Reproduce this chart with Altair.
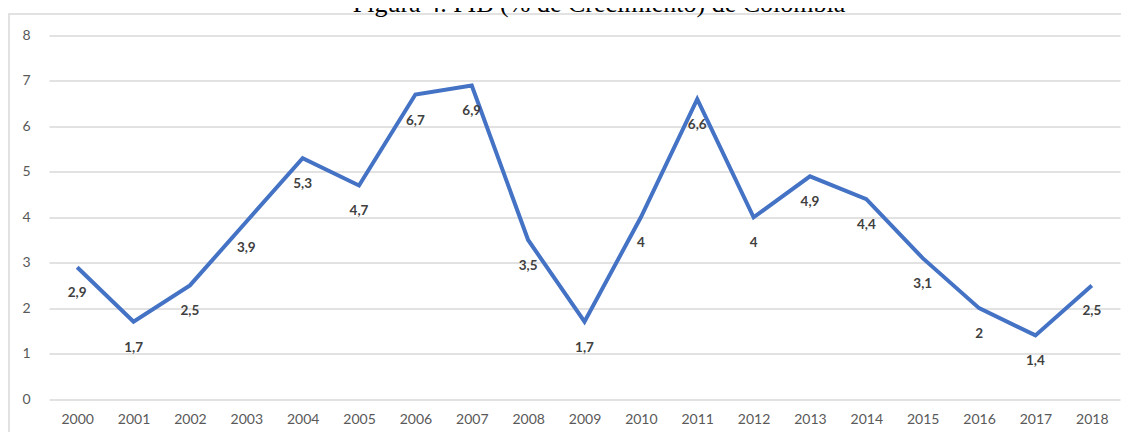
import altair as alt
import pandas as pd

years = [str(y) for y in range(2000, 2019)]
growth = [2.9, 1.7, 2.5, 3.9, 5.3, 4.7, 6.7, 6.9, 3.5, 1.7, 4.0, 6.6, 4.0, 4.9, 4.4, 3.1, 2.0, 1.4, 2.5]
labels = ["2,9", "1,7", "2,5", "3,9", "5,3", "4,7", "6,7", "6,9", "3,5", "1,7", "4",
          "6,6", "4", "4,9", "4,4", "3,1", "2", "1,4", "2,5"]
title_text = "Figura 4. PIB (% de Crecimiento) de Colombia"
y_ticks = [0, 1, 2, 3, 4, 5, 6, 7, 8]

df = pd.DataFrame({"year": years, "growth": growth, "label": labels})

W, H = 1071, 363.5

x_enc = alt.X("year:O", sort=years,
              scale=alt.Scale(type="point", padding=0.5),
              axis=alt.Axis(title=None, labelAngle=0, ticks=False, domain=False,
                            grid=False, labelFont="Lato", labelFontSize=14,
                            labelColor="#595959", labelPadding=13))
y_enc = alt.Y("growth:Q", scale=alt.Scale(domain=[0, 8], nice=False),
              axis=alt.Axis(title=None, values=y_ticks, ticks=False, domain=False,
                            grid=True, gridColor="#D9D9D9", gridWidth=1.5,
                            labelFont="Lato", labelFontSize=14, labelColor="#595959",
                            labelPadding=19))

base = alt.Chart(df)

line = base.mark_line(color="#4472C4", strokeWidth=4, strokeJoin="miter").encode(x=x_enc, y=y_enc)

text = base.mark_text(font="Lato", fontWeight="bold", fontSize=13.5, color="#404040",
                      dy=26, baseline="middle").encode(x=alt.X("year:O", sort=years), y="growth:Q", text="label:N")

border = alt.Chart(pd.DataFrame({"a": [0]})).mark_rect(
    fill=None, stroke="#D9D9D9", strokeWidth=1.5).encode(
    x=alt.value(-40), x2=alt.value(1200), y=alt.value(-21.5), y2=alt.value(500))

title = alt.Chart(pd.DataFrame({"t": [title_text]})).mark_text(
    font="Liberation Serif", fontSize=26, color="#000000", baseline="alphabetic",
    align="center").encode(text="t:N", x=alt.value(550), y=alt.value(-24))

chart = alt.layer(border, line, text, title).properties(
    width=W, height=H,
    autosize=alt.AutoSizeParams(type="none"),
    padding={"left": 41, "top": 27.5, "right": 1, "bottom": 33},
).configure_view(stroke=None)

chart.save("out.html", embed_options={"renderer": "svg", "actions": False})
